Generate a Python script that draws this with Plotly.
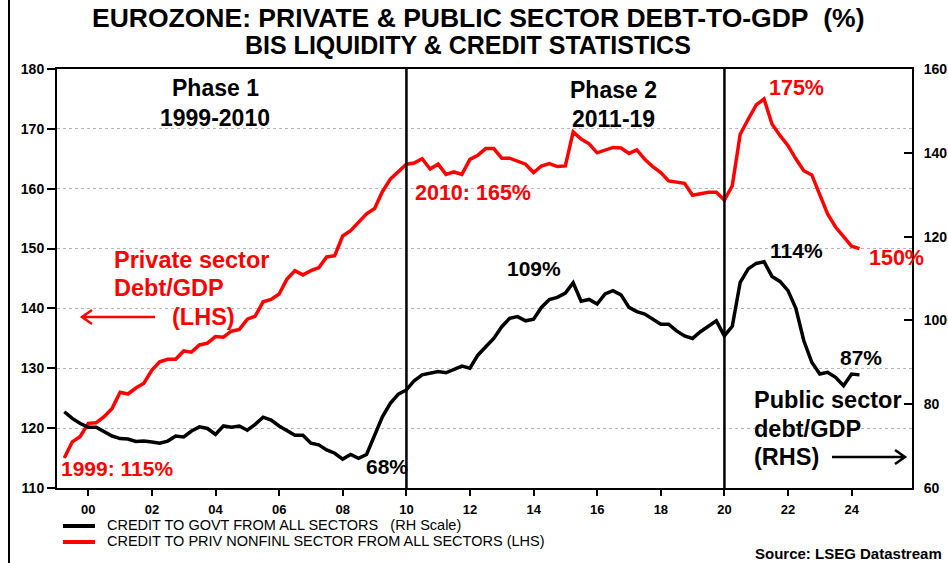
import pandas as pd
import plotly.graph_objects as go

# Quarterly observations, Q1 1999 .. Q1 2024 (quarter-end dates)
quarters = pd.date_range("1999-03-31", periods=101, freq="QE")

# Credit to private non-financial sector, % of GDP (left scale)
private_debt = [
    115.0, 117.7, 118.6, 120.8, 120.9, 121.9, 123.3, 126.0, 125.7, 126.7,
    127.5, 129.7, 131.1, 131.5, 131.5, 132.9, 132.7, 133.9, 134.2, 135.3,
    135.2, 136.2, 136.5, 138.2, 138.7, 141.1, 141.5, 142.4, 144.9, 146.3,
    145.6, 146.3, 146.8, 148.6, 148.8, 152.1, 153.0, 154.5, 155.8, 156.7,
    159.5, 161.6, 162.8, 164.1, 164.3, 165.0, 163.3, 164.1, 162.4, 162.8,
    162.4, 164.9, 165.6, 166.7, 166.7, 165.1, 165.1, 164.6, 164.1, 162.7,
    163.8, 164.2, 163.7, 163.8, 169.5, 168.3, 167.5, 166.0, 166.4, 166.9,
    166.8, 165.9, 166.5, 164.9, 163.7, 162.7, 161.3, 161.1, 160.9, 158.9,
    159.1, 159.4, 159.4, 158.1, 160.5, 169.1, 171.6, 174.0, 175.0, 170.8,
    168.9, 167.2, 165.0, 163.0, 162.3, 158.9, 155.8, 153.6, 151.9, 150.4,
    150.0,
]

# Credit to government from all sectors, % of GDP (right scale)
govt_debt = [
    78.2, 76.6, 75.4, 74.5, 74.5, 73.4, 72.4, 71.8, 71.7, 71.1,
    71.2, 71.0, 70.7, 71.2, 72.4, 72.2, 73.6, 74.6, 74.2, 72.8,
    74.8, 74.5, 74.8, 73.8, 75.2, 76.9, 76.2, 74.8, 73.8, 72.6,
    72.6, 70.7, 70.3, 69.1, 68.3, 66.9, 68.0, 67.1, 68.0, 72.6,
    77.0, 80.2, 82.4, 83.4, 85.6, 87.0, 87.4, 87.8, 87.5, 88.3,
    89.1, 88.6, 91.7, 93.7, 95.7, 98.5, 100.5, 100.9, 99.9, 100.3,
    103.1, 105.0, 105.5, 106.5, 109.0, 104.6, 105.0, 103.9, 106.3, 107.1,
    106.1, 103.1, 102.1, 101.5, 100.4, 99.1, 99.1, 97.5, 96.3, 95.7,
    97.3, 98.7, 99.9, 96.3, 98.6, 109.1, 112.3, 113.6, 114.0, 110.5,
    109.3, 107.1, 102.9, 95.2, 90.0, 87.2, 87.6, 86.4, 84.4, 87.2,
    87.0,
]

tick_years = list(range(2000, 2025, 2))
tick_labels = [f"{y % 100:02d}" for y in tick_years]
phase_breaks = ["2010-01-01", "2020-01-01"]

govt_name = "CREDIT TO GOVT FROM ALL SECTORS\u00a0\u00a0\u00a0(RH Scale)"
priv_name = "CREDIT TO PRIV NONFINL SECTOR FROM ALL SECTORS (LHS)"

W, H = 948, 563
L, R, T, B = 57, 36, 69, 75
PW, PH = W - L - R, H - T - B


def px(x, y):
    """Pixel position on the page -> paper coordinates."""
    return (x - L) / PW, (H - B - y) / PH


FONT = "Arial, Liberation Sans, sans-serif"
RED = "#ff0000"
series = [
    (govt_debt, "y2", govt_name, "black"),
    (private_debt, "y", priv_name, RED),
]

fig = go.Figure()
for values, axis, name, color in series:
    fig.add_trace(go.Scatter(
        x=quarters, y=values, yaxis=axis, mode="lines", name=name,
        line=dict(color=color, width=3.5), showlegend=False,
    ))

annotations = []


def label(x, y, text, size, color="black", bold=True, xanchor="center"):
    ax, ay = px(x, y)
    annotations.append(dict(
        x=ax, y=ay, xref="paper", yref="paper", text=text, showarrow=False,
        xanchor=xanchor, yanchor="middle",
        font=dict(family=FONT, size=size, color=color,
                  weight="bold" if bold else "normal"),
    ))


# Titles
label(478, 18, "EUROZONE: PRIVATE &amp; PUBLIC SECTOR DEBT-TO-GDP\u00a0\u00a0(%)", 26.5)
label(468, 45, "BIS LIQUIDITY &amp; CREDIT STATISTICS", 25)

# Phase headings
label(215, 88, "Phase 1", 23)
label(215, 118, "1999-2010", 23)
label(613, 90, "Phase 2", 23)
label(613, 119, "2011-19", 23)

# Value call-outs
label(796, 88, "175%", 21.5, RED)
label(473, 193, "2010: 165%", 21.5, RED)
label(117, 468, "1999: 115%", 21, RED)
label(896, 258, "150%", 21.5, RED)
label(534, 268, "109%", 21)
label(796, 250, "114%", 21)
label(387, 466, "68%", 21)
label(861, 357, "87%", 21)

# Series captions
label(112, 260, "Private sector", 23.5, RED, xanchor="left")
label(112, 288, "Debt/GDP", 23.5, RED, xanchor="left")
label(170, 317, "(LHS)", 23.5, RED, xanchor="left")
label(752, 400, "Public sector", 23.5, xanchor="left")
label(752, 429, "debt/GDP", 23.5, xanchor="left")
label(752, 457, "(RHS)", 23.5, xanchor="left")

label(944, 553, "Source: LSEG Datastream", 15, xanchor="right")

shapes = []

# Key below the plot: swatch + series name
for i, (_, _, name, color) in enumerate(series):
    ly = 526 + 16 * i
    sx0, sy = px(63, ly)
    sx1, _ = px(95, ly)
    shapes.append(dict(type="line", xref="paper", yref="paper",
                       x0=sx0, x1=sx1, y0=sy, y1=sy,
                       line=dict(color=color, width=4)))
    label(105, ly - 1, name, 14.5, bold=False, xanchor="left")

# Phase separators
for d in phase_breaks:
    shapes.append(dict(type="line", xref="x", yref="paper", x0=d, x1=d,
                       y0=0, y1=1, line=dict(color="black", width=2.5)))


def arrow(x0, x1, y, color, head=10, half=7):
    a0, b = px(x0, y)
    a1, _ = px(x1, y)
    d = head / PW if x1 > x0 else -head / PW
    h = half / PH
    path = (f"M {a0} {b} L {a1} {b} "
            f"M {a1 - d} {b + h} L {a1} {b} L {a1 - d} {b - h}")
    shapes.append(dict(type="path", xref="paper", yref="paper", path=path,
                       line=dict(color=color, width=2.5)))


arrow(155, 82, 317, RED)
arrow(832, 905, 457, "black")

# Outer frame rule on the left edge of the page
fx, fy0 = px(9, 0)
_, fy1 = px(9, H)
shapes.append(dict(type="line", xref="paper", yref="paper", x0=fx, x1=fx,
                   y0=fy1, y1=fy0, line=dict(color="black", width=2)))

tickfont = dict(family=FONT, size=14, color="black", weight="bold")
xtickfont = dict(family=FONT, size=13, color="black", weight="bold")

fig.update_layout(
    width=W, height=H, autosize=False,
    margin=dict(l=L, r=R, t=T, b=B, pad=0, autoexpand=False),
    paper_bgcolor="white", plot_bgcolor="white",
    showlegend=False,
    xaxis=dict(
        type="date", range=["1999-01-06", "2025-11-24"],
        tickvals=[f"{y}-01-01" for y in tick_years], ticktext=tick_labels,
        ticks="outside", ticklen=6, tickwidth=2, tickcolor="black",
        showline=True, linewidth=2, linecolor="black", mirror=True,
        showgrid=False, zeroline=False, tickfont=xtickfont,
        ticklabelstandoff=2,
    ),
    yaxis=dict(
        range=[110, 180], tick0=110, dtick=10,
        ticks="outside", ticklen=8, tickwidth=2, tickcolor="black",
        showline=True, linewidth=2, linecolor="black",
        showgrid=True, gridcolor="#b4b4b4", gridwidth=1, griddash="dot",
        zeroline=False, tickfont=tickfont,
    ),
    yaxis2=dict(
        range=[60, 160], tick0=60, dtick=20, overlaying="y", side="right",
        ticks="inside", ticklen=8, tickwidth=2, tickcolor="black",
        showline=True, linewidth=2, linecolor="black",
        showgrid=False, zeroline=False, tickfont=tickfont,
        ticklabelstandoff=7,
    ),
    annotations=annotations,
    shapes=shapes,
)

fig.write_html("out.html")
